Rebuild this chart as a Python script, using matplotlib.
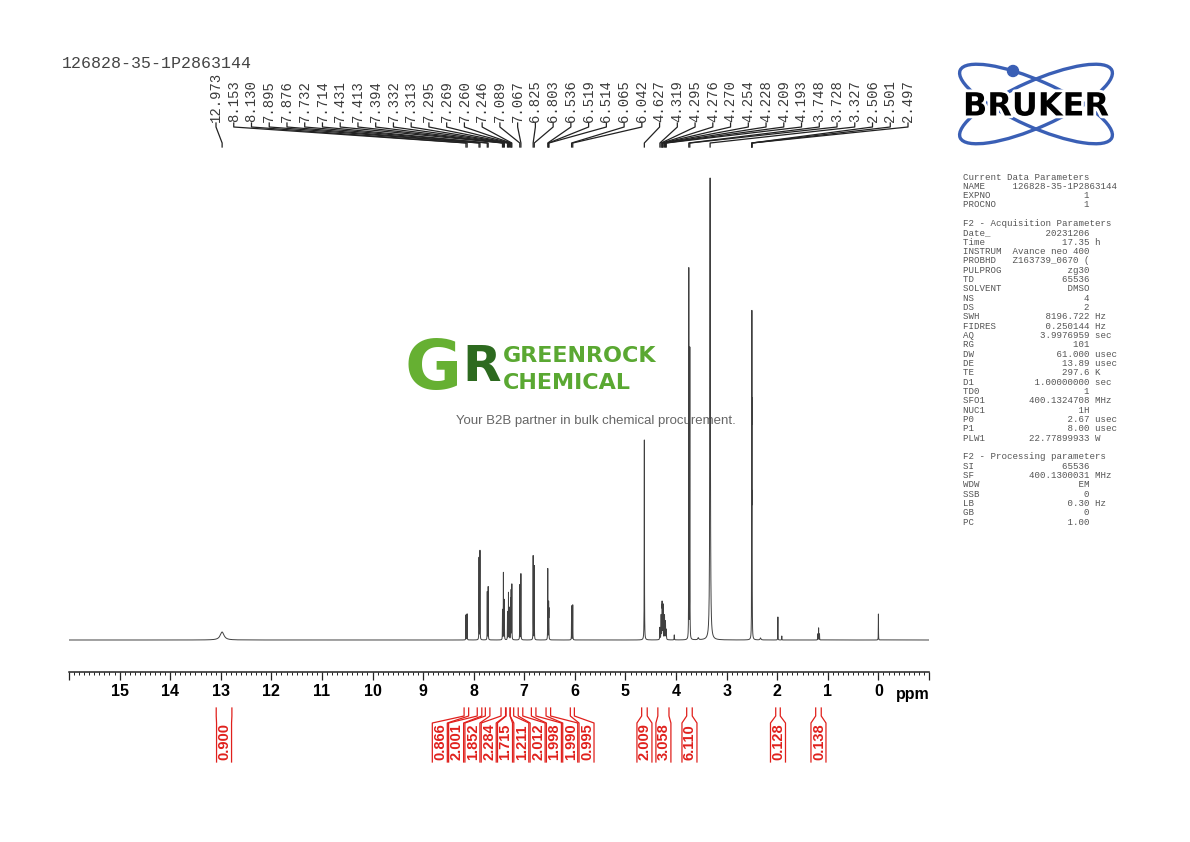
"""
1H NMR spectrum (DMSO, 400 MHz) re-drawn with matplotlib, Bruker TopSpin style.
"""
import matplotlib

matplotlib.use("Agg")
import matplotlib.pyplot as plt  # noqa: E402
import numpy as np  # noqa: E402
from matplotlib import patheffects  # noqa: E402
from matplotlib.patches import Circle, Ellipse  # noqa: E402
from matplotlib.ticker import MultipleLocator  # noqa: E402

SAMPLE = "126828-35-1P2863144"

# peaks: shift (ppm), height (arbitrary intensity), half width (ppm)
peak_ppm = [12.973, 8.153, 8.130, 7.895, 7.876, 7.732, 7.714, 7.431, 7.413, 7.394,
            7.332, 7.313, 7.295, 7.269, 7.260, 7.246, 7.089, 7.067, 6.825, 6.803,
            6.536, 6.519, 6.514, 6.065, 6.042, 4.627, 4.319, 4.295, 4.276, 4.270,
            4.254, 4.228, 4.209, 4.193, 4.035, 3.748, 3.728, 3.560, 3.327, 2.506,
            2.501, 2.497, 2.330, 1.987, 1.910, 1.200, 1.182, 1.164, 0.000]
peak_height = [8, 25, 26, 82, 89, 48, 53, 30, 67, 40,
               28, 47, 32, 40, 48, 55, 55, 66, 84, 74,
               71, 35, 28, 34, 35, 200, 12, 24, 32, 28,
               34, 24, 18, 10, 5, 370, 290, 2, 462, 110,
               285, 190, 2, 23, 4, 6, 12, 6, 26]
peak_hwhm = [0.045, 0.0018, 0.0018, 0.0018, 0.0018, 0.0018, 0.0018, 0.0018, 0.0018, 0.0018,
             0.0018, 0.0018, 0.0018, 0.0018, 0.0018, 0.0018, 0.0018, 0.0018, 0.0018, 0.0018,
             0.0018, 0.0018, 0.0018, 0.0018, 0.0018, 0.0025, 0.003, 0.003, 0.003, 0.003,
             0.003, 0.003, 0.003, 0.003, 0.003, 0.0018, 0.0018, 0.01, 0.006, 0.0018,
             0.0018, 0.0018, 0.01, 0.0018, 0.0018, 0.002, 0.002, 0.002, 0.0018]

# peak pick labels along the top
label_ppm = [12.973, 8.153, 8.130, 7.895, 7.876, 7.732, 7.714, 7.431, 7.413, 7.394,
             7.332, 7.313, 7.295, 7.269, 7.260, 7.246, 7.089, 7.067, 6.825, 6.803,
             6.536, 6.519, 6.514, 6.065, 6.042, 4.627, 4.319, 4.295, 4.276, 4.270,
             4.254, 4.228, 4.209, 4.193, 3.748, 3.728, 3.327, 2.506, 2.501, 2.497]

# integrals: region start/end (ppm) and value
integ_start = [13.09, 8.19, 7.93, 7.77, 7.46, 7.36, 7.28, 7.12, 6.86, 6.57, 6.09,
               4.68, 4.36, 3.79, 2.03, 1.24]
integ_end = [12.78, 8.10, 7.84, 7.68, 7.37, 7.28, 7.21, 7.03, 6.77, 6.48, 6.01,
             4.57, 4.14, 3.68, 1.94, 1.13]
integ_value = ["0.900", "0.866", "2.001", "1.852", "2.284", "1.715", "1.211", "2.012",
               "1.998", "1.990", "0.995", "2.009", "3.058", "6.110", "0.128", "0.138"]

param_rows = [
    ("Current Data Parameters", None, None),
    ("NAME", SAMPLE, ""),
    ("EXPNO", "1", ""),
    ("PROCNO", "1", ""),
    ("", None, None),
    ("F2 - Acquisition Parameters", None, None),
    ("Date_", "20231206", ""),
    ("Time", "17.35", "h"),
    ("INSTRUM", "Avance neo 400", ""),
    ("PROBHD", "Z163739_0670 (", ""),
    ("PULPROG", "zg30", ""),
    ("TD", "65536", ""),
    ("SOLVENT", "DMSO", ""),
    ("NS", "4", ""),
    ("DS", "2", ""),
    ("SWH", "8196.722", "Hz"),
    ("FIDRES", "0.250144", "Hz"),
    ("AQ", "3.9976959", "sec"),
    ("RG", "101", ""),
    ("DW", "61.000", "usec"),
    ("DE", "13.89", "usec"),
    ("TE", "297.6", "K"),
    ("D1", "1.00000000", "sec"),
    ("TD0", "1", ""),
    ("SFO1", "400.1324708", "MHz"),
    ("NUC1", "1H", ""),
    ("P0", "2.67", "usec"),
    ("P1", "8.00", "usec"),
    ("PLW1", "22.77899933", "W"),
    ("", None, None),
    ("F2 - Processing parameters", None, None),
    ("SI", "65536", ""),
    ("SF", "400.1300031", "MHz"),
    ("WDW", "EM", ""),
    ("SSB", "0", ""),
    ("LB", "0.30", "Hz"),
    ("GB", "0", ""),
    ("PC", "1.00", ""),
]

W, H = 1190, 842
MONO = "Liberation Mono"
SANS = "Liberation Sans"
RED = "#e0201c"
GREEN = "#5aa832"

fig = plt.figure(figsize=(W / 100, H / 100), dpi=100)
fig.patch.set_facecolor("white")

# pixel overlay for annotations (below the spectrum)
ov = fig.add_axes([0, 0, 1, 1], zorder=0)
ov.set_xlim(0, W)
ov.set_ylim(H, 0)
ov.axis("off")

# spectrum axes: ppm axis at y=672 px, baseline at y=640 px
ax = fig.add_axes([69 / W, (H - 672) / H, 860 / W, 522 / H], zorder=1)
ax.patch.set_alpha(0)
ax.set_xlim(16, -1)
ax.set_ylim(-32, 490)

x = np.union1d(np.linspace(-1, 16, 34001), peak_ppm)
y = np.zeros_like(x)
for p, h, w in zip(peak_ppm, peak_height, peak_hwhm):
    y += h / (1 + ((x - p) / w) ** 2)
ax.plot(x, y, color="#404040", lw=0.7)

ticks = np.arange(-1, 17)
ax.set_xticks(ticks)
ax.set_xticklabels([str(t) if 0 <= t <= 15 else "" for t in ticks],
                   fontsize=11.5, fontweight="bold", family=SANS)
ax.xaxis.set_minor_locator(MultipleLocator(0.1))
ax.tick_params(axis="x", which="major", direction="out", length=5.5, width=0.9,
               pad=3.5, color="#222222")
ax.tick_params(axis="x", which="minor", direction="out", length=2.2, width=0.7,
               color="#222222")
ax.set_yticks([])
for s in ("top", "left", "right"):
    ax.spines[s].set_visible(False)
ax.spines["bottom"].set_linewidth(1.1)
ax.spines["bottom"].set_color("#222222")
ov.text(896, 699, "ppm", ha="left", va="baseline", fontsize=11.5,
        fontweight="bold", family=SANS)


def ppm_px(vals):
    vals = np.atleast_1d(np.asarray(vals, dtype=float))
    disp = ax.transData.transform(np.column_stack([vals, np.zeros_like(vals)]))
    return ov.transData.inverted().transform(disp)[:, 0]


def spread(xs, gap):
    # push overlapping label positions apart, keeping each cluster centred
    groups = [[v] for v in xs]
    changed = True
    while changed:
        changed = False
        out = []
        for g in groups:
            if out:
                prev = out[-1]
                prev_right = np.mean(prev) + (len(prev) - 1) / 2 * gap
                left = np.mean(g) - (len(g) - 1) / 2 * gap
                if left - prev_right < gap:
                    out[-1] = prev + g
                    changed = True
                    continue
            out.append(g)
        groups = out
    res = []
    for g in groups:
        c = np.mean(g)
        res += [c + (i - (len(g) - 1) / 2) * gap for i in range(len(g))]
    return res


# header sample name
ov.text(62, 63, SAMPLE, ha="left", va="center", fontsize=12, family=MONO, color="#444444")

# peak labels
lab_x = np.linspace(216, 908, len(label_ppm))
pk_x = ppm_px(label_ppm)
for lx, px, v in zip(lab_x, pk_x, label_ppm):
    ov.text(lx, 121.5, f"{v:.3f}", rotation=90, ha="center", va="bottom",
            fontsize=10, family=MONO, color="#3a3a3a")
    ov.plot([lx, lx, px, px], [123, 127, 143, 147], color="#222222", lw=0.9)

# integrals
x0 = ppm_px(integ_start)
x1 = ppm_px(integ_end)
centers = spread(list((x0 + x1) / 2), 16.3)
for a, b, c, val in zip(x0, x1, centers, integ_value):
    ov.plot([a, a, c - 7.5, c - 7.5], [708, 716, 723, 762], color=RED, lw=0.9)
    ov.plot([b, b, c + 7.5, c + 7.5], [708, 716, 723, 762], color=RED, lw=0.9)
    ov.text(c + 0.5, 742, val, rotation=90, ha="center", va="center",
            fontsize=10.5, fontweight="bold", family=SANS, color=RED)

# parameter block
for i, (key, val, unit) in enumerate(param_rows):
    if val is None:
        line = key
    elif key == "NAME":
        line = f"{key:<9}{val}"
    else:
        line = f"{key:<8}{val:>15} {unit}".rstrip()
    ov.text(963, 177 + i * 9.33, line, ha="left", va="center", fontsize=6.6,
            family=MONO, color="#555555")

# Bruker logo
blue = "#3a5fb5"
for ang in (24, -24):
    ov.add_patch(Ellipse((1036, 104), 166, 46, angle=ang, fill=False, ec=blue, lw=2.4))
ov.add_patch(Circle((1013, 71), 5.5, color=blue))
ov.text(1036, 107, "BRUKER", ha="center", va="center", fontsize=23, fontweight="bold",
        family="DejaVu Sans", color="black",
        path_effects=[patheffects.withStroke(linewidth=4, foreground="white")])

# Greenrock watermark
ov.text(462, 369, "G", ha="right", va="center", fontsize=50, fontweight="bold",
        family="DejaVu Sans", color="#66b032")
ov.text(462, 367, "R", ha="left", va="center", fontsize=36, fontweight="bold",
        family="DejaVu Sans", color="#2d6a1f")
ov.text(503, 362, "GREENROCK", ha="left", va="baseline", fontsize=16,
        fontweight="bold", family="DejaVu Sans", color=GREEN)
ov.text(503, 389, "CHEMICAL", ha="left", va="baseline", fontsize=16,
        fontweight="bold", family="DejaVu Sans", color=GREEN)
ov.text(456, 421, "Your B2B partner in bulk chemical procurement.", ha="left",
        va="center", fontsize=9.5, family=SANS, color="#666666")

fig.savefig("out.png", dpi=100)
